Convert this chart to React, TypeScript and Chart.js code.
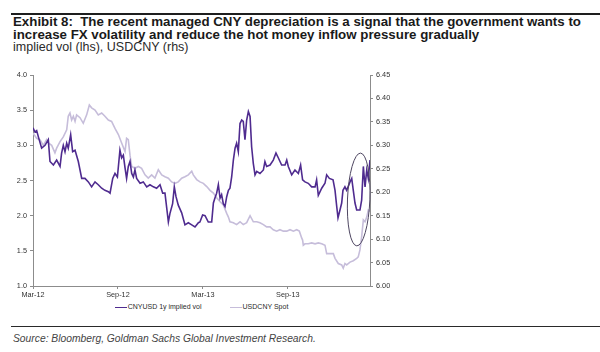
import React, { useEffect, useRef } from "react";
import { Chart, registerables } from "chart.js";

Chart.register(...registerables);

// ---- data (x positions in months since Mar-2012) ----
const xTickMonths = [0, 6, 12, 18];
const xTickLabels = ["Mar-12", "Sep-12", "Mar-13", "Sep-13"];
const xMaxMonth = 23.8;

const seriesNames = ["CNYUSD 1y implied vol", "USDCNY Spot"];
const seriesColors = ["#4f2b8f", "#c6bdda"];

const volMonths = [
  0.0, 0.14, 0.26, 0.38, 0.61, 0.85, 1.08, 1.2, 1.44, 1.67, 1.91, 2.02, 2.14, 2.26, 2.38, 2.49, 2.66, 2.8, 2.97, 3.2,
  3.44, 3.67, 3.91, 4.14, 4.38, 4.61, 4.85, 5.08, 5.32, 5.44, 5.63, 5.79, 5.96, 6.14, 6.26, 6.38, 6.5, 6.61, 6.73, 6.85,
  6.97, 7.09, 7.2, 7.32, 7.56, 7.79, 8.03, 8.26, 8.5, 8.73, 8.97, 9.16, 9.32, 9.56, 9.67, 9.86, 9.98, 10.1, 10.26, 10.5,
  10.73, 10.97, 11.21, 11.44, 11.68, 11.79, 11.98, 12.15, 12.38, 12.62, 12.74, 12.85, 12.97, 13.09, 13.21, 13.32, 13.44,
  13.56, 13.68, 13.8, 13.91, 14.03, 14.15, 14.27, 14.38, 14.5, 14.62, 14.74, 14.85, 14.97, 15.09, 15.21, 15.33, 15.44,
  15.56, 15.68, 15.8, 16.03, 16.27, 16.38, 16.5, 16.74, 16.97, 17.16, 17.33, 17.56, 17.8, 17.92, 18.03, 18.27, 18.5,
  18.74, 18.9, 19.04, 19.21, 19.44, 19.68, 19.92, 20.03, 20.15, 20.39, 20.62, 20.74, 20.93, 21.19, 21.33, 21.45, 21.54,
  21.68, 21.8, 21.89, 22.03, 22.15, 22.25, 22.39, 22.51, 22.62, 22.74, 22.86, 23.09, 23.21, 23.33, 23.45, 23.57, 23.68,
  23.8,
];
const volValues = [
  3.25, 3.19, 3.21, 3.12, 2.96, 3.0, 3.08, 2.77, 2.72, 2.79, 2.7, 2.89, 3.0, 2.91, 3.03, 2.96, 3.15, 2.91, 2.93, 2.77,
  2.53, 2.53, 2.48, 2.41, 2.48, 2.44, 2.39, 2.36, 2.34, 2.32, 2.53, 2.6, 2.55, 2.93, 2.82, 2.86, 2.68, 2.53, 2.7, 2.77,
  2.6, 2.55, 2.65, 2.53, 2.46, 2.48, 2.41, 2.44, 2.41, 2.39, 2.44, 2.32, 2.32, 1.91, 2.03, 2.17, 2.41, 2.27, 2.15, 2.04,
  1.87, 1.9, 1.87, 1.84, 1.9, 1.91, 2.01, 2.0, 1.91, 1.91, 2.18, 2.25, 2.32, 2.44, 2.25, 2.3, 2.17,
  2.13, 2.27, 2.36, 2.39, 2.55, 2.79, 2.96, 3.03, 2.91, 3.31, 3.36, 3.34, 3.08, 3.36, 3.48, 3.41, 2.98,
  2.74, 2.58, 2.63, 2.6, 2.65, 2.77, 2.7, 2.72, 2.79, 2.89, 2.82, 2.72, 2.72, 2.79, 2.7, 2.58, 2.65,
  2.6, 2.72, 2.51, 2.48, 2.46, 2.41, 2.41, 2.51, 2.29, 2.39, 2.46, 2.58, 2.53, 2.51, 2.36, 2.13, 1.97,
  2.08, 2.18, 2.36, 2.41, 2.36, 2.41, 2.48, 2.53, 2.36, 2.18, 2.08, 2.08, 2.22, 2.7, 2.41, 2.65, 2.53,
  2.79,
];

const spotMonths = [
  0.0, 0.26, 0.49, 0.73, 0.96, 1.08, 1.32, 1.55, 1.67, 1.91, 2.14, 2.38, 2.49, 2.61, 2.73, 2.85, 2.97, 3.08, 3.32, 3.55,
  3.79, 3.98, 4.14, 4.38, 4.61, 4.85, 5.08, 5.32, 5.55, 5.79, 6.03, 6.26, 6.5, 6.61, 6.73, 6.85, 6.97, 7.2, 7.44, 7.67,
  7.91, 8.14, 8.38, 8.61, 8.85, 9.09, 9.32, 9.56, 9.79, 10.03, 10.26, 10.5, 10.73, 10.97, 11.21, 11.32, 11.56, 11.79,
  12.03, 12.27, 12.5, 12.74, 12.97, 13.21, 13.44, 13.68, 13.8, 13.91, 14.15, 14.38, 14.62, 14.85, 15.09, 15.33, 15.56,
  15.8, 16.03, 16.27, 16.5, 16.74, 16.97, 17.21, 17.44, 17.68, 17.92, 18.15, 18.39, 18.62, 18.81, 18.98, 19.04, 19.09,
  19.21, 19.44, 19.68, 19.92, 20.15, 20.39, 20.62, 20.74, 20.97, 21.21, 21.33, 21.56, 21.8, 21.91, 22.03, 22.15, 22.39,
  22.62, 22.86, 22.97, 23.09, 23.21, 23.33, 23.45, 23.57, 23.68, 23.8,
];
const spotValues = [
  6.326, 6.315, 6.312, 6.3, 6.312, 6.305, 6.3, 6.284, 6.294, 6.308, 6.318, 6.333, 6.362, 6.369, 6.354, 6.362, 6.351,
  6.365, 6.359, 6.347, 6.365, 6.386, 6.38, 6.375, 6.365, 6.369, 6.362, 6.354, 6.351, 6.336, 6.323, 6.305, 6.287, 6.315,
  6.312, 6.279, 6.255, 6.251, 6.255, 6.251, 6.237, 6.23, 6.237, 6.23, 6.248, 6.237, 6.233, 6.23, 6.222, 6.219, 6.222,
  6.23, 6.233, 6.237, 6.245, 6.237, 6.227, 6.222, 6.219, 6.212, 6.204, 6.198, 6.188, 6.18, 6.173, 6.155, 6.147, 6.137,
  6.135, 6.131, 6.137, 6.131, 6.135, 6.15, 6.137, 6.137, 6.135, 6.131, 6.126, 6.126, 6.12, 6.117, 6.12, 6.117, 6.117,
  6.12, 6.117, 6.12, 6.117, 6.102, 6.098, 6.087, 6.09, 6.09, 6.092, 6.09, 6.092, 6.09, 6.087, 6.069, 6.069, 6.069,
  6.059, 6.048, 6.045, 6.038, 6.048, 6.045, 6.051, 6.054, 6.059, 6.062, 6.077, 6.105, 6.141, 6.137, 6.147, 6.162,
  6.159,
];

// highlight ellipse, in data units (months, implied vol)
const highlightCenter = { month: 23.0, vol: 2.23 };
const highlightRadius = { month: 0.79, vol: 0.66 };

const FONT = "'Liberation Sans', Arial, sans-serif";
const AXIS_COLOR = "#8c8c8c";
const TICK_COLOR = "#333333";

const ellipsePlugin = {
  id: "highlightEllipse",
  afterDatasetsDraw(chart: any) {
    const { ctx, scales } = chart;
    const cx = scales.x.getPixelForValue(highlightCenter.month);
    const cy = scales.y.getPixelForValue(highlightCenter.vol);
    const rx = Math.abs(scales.x.getPixelForValue(highlightCenter.month + highlightRadius.month) - cx);
    const ry = Math.abs(scales.y.getPixelForValue(highlightCenter.vol + highlightRadius.vol) - cy);
    ctx.save();
    ctx.beginPath();
    ctx.ellipse(cx, cy, rx, ry, 0.04, 0, Math.PI * 2);
    ctx.strokeStyle = "#4d4560";
    ctx.lineWidth = 1;
    ctx.stroke();
    ctx.restore();
  },
};

function ChartCanvas() {
  const ref = useRef<HTMLCanvasElement | null>(null);
  useEffect(() => {
    if (!ref.current) return;
    const volData = volMonths.map((m, i) => ({ x: m, y: volValues[i] }));
    const spotData = spotMonths.map((m, i) => ({ x: m, y: spotValues[i] }));
    const chart = new Chart(ref.current, {
      type: "line",
      data: {
        datasets: [
          {
            label: seriesNames[0],
            data: volData,
            yAxisID: "y",
            borderColor: seriesColors[0],
            borderWidth: 1.6,
            pointRadius: 0,
            tension: 0,
          },
          {
            label: seriesNames[1],
            data: spotData,
            yAxisID: "y1",
            borderColor: seriesColors[1],
            borderWidth: 1.6,
            pointRadius: 0,
            tension: 0,
          },
        ],
      },
      options: {
        responsive: false,
        animation: false,
        layout: { padding: { top: 15, left: 0, right: 0, bottom: 0 } },
        plugins: { legend: { display: false }, tooltip: { enabled: false } },
        scales: {
          x: {
            type: "linear",
            min: 0,
            max: xMaxMonth,
            afterBuildTicks: (scale: any) => {
              scale.ticks = xTickMonths.map((v) => ({ value: v }));
            },
            afterFit: (scale: any) => {
              scale.height = 14;
            },
            ticks: {
              autoSkip: false,
              maxRotation: 0,
              padding: 2,
              color: TICK_COLOR,
              font: { family: FONT, size: 7.3 },
              callback: (value: any) => {
                const i = xTickMonths.indexOf(Number(value));
                return i >= 0 ? xTickLabels[i] : "";
              },
            },
            grid: { drawOnChartArea: false, drawTicks: true, tickLength: 3, color: AXIS_COLOR },
            border: { display: true, color: AXIS_COLOR, width: 1 },
          },
          y: {
            type: "linear",
            position: "left",
            min: 1,
            max: 4,
            afterFit: (scale: any) => {
              scale.width = 33;
            },
            ticks: {
              stepSize: 0.5,
              padding: 3,
              color: TICK_COLOR,
              font: { family: FONT, size: 7.3 },
              callback: (v: any) => Number(v).toFixed(1),
            },
            grid: { drawOnChartArea: false, drawTicks: true, tickLength: 3, color: AXIS_COLOR },
            border: { display: true, color: AXIS_COLOR, width: 1 },
          },
          y1: {
            type: "linear",
            position: "right",
            min: 6,
            max: 6.45,
            afterFit: (scale: any) => {
              scale.width = 30;
            },
            ticks: {
              stepSize: 0.05,
              padding: 3,
              color: TICK_COLOR,
              font: { family: FONT, size: 7.3 },
              callback: (v: any) => Number(v).toFixed(2),
            },
            grid: { drawOnChartArea: false, drawTicks: true, tickLength: 3, color: AXIS_COLOR },
            border: { display: true, color: AXIS_COLOR, width: 1 },
          },
        },
      } as any,
      plugins: [ellipsePlugin],
    });
    return () => chart.destroy();
  }, []);
  return (
    <canvas
      ref={ref}
      width={400}
      height={240}
      style={{ position: "absolute", left: 0, top: 60, width: 400, height: 240, display: "block" }}
    />
  );
}

export default function App() {
  return (
    <div
      style={{
        position: "fixed",
        left: 0,
        top: 0,
        width: 600,
        height: 352,
        background: "#ffffff",
        overflow: "hidden",
        fontFamily: FONT,
      }}
    >
      <div style={{ position: "absolute", left: 11, right: 0, top: 12.5, height: 2, background: "#1e1e1e" }} />
      <div
        style={{
          position: "absolute",
          left: 13,
          top: 16,
          width: 595,
          fontSize: 13.3,
          lineHeight: "12.5px",
          fontWeight: "bold",
          color: "#1a1a1a",
          whiteSpace: "pre",
        }}
      >
        {"Exhibit 8:  The recent managed CNY depreciation is a signal that the government wants to\nincrease FX volatility and reduce the hot money inflow pressure gradually"}
      </div>
      <div style={{ position: "absolute", left: 13, top: 40.5, fontSize: 12.5, lineHeight: "13px", color: "#2a2a2a" }}>
        implied vol (lhs), USDCNY (rhs)
      </div>

      <ChartCanvas />

      <div
        style={{
          position: "absolute",
          left: 0,
          width: 403,
          top: 302,
          height: 10,
          display: "flex",
          justifyContent: "center",
          alignItems: "center",
          gap: 28,
          fontSize: 7,
          lineHeight: "10px",
          color: "#2a2a2a",
        }}
      >
        {seriesNames.map((name, i) => (
          <div key={name} style={{ display: "flex", alignItems: "center" }}>
            <span
              style={{
                display: "inline-block",
                width: 12,
                height: 0,
                borderTop: `1.5px solid ${seriesColors[i]}`,
                marginRight: 1,
              }}
            />
            <span>{name}</span>
          </div>
        ))}
      </div>

      <div style={{ position: "absolute", left: 11, right: 0, top: 325.5, height: 1.5, background: "#2a2a2a" }} />
      <div
        style={{
          position: "absolute",
          left: 13,
          top: 332,
          fontSize: 10.3,
          lineHeight: "13px",
          fontStyle: "italic",
          color: "#444",
        }}
      >
        Source: Bloomberg, Goldman Sachs Global Investment Research.
      </div>
    </div>
  );
}
